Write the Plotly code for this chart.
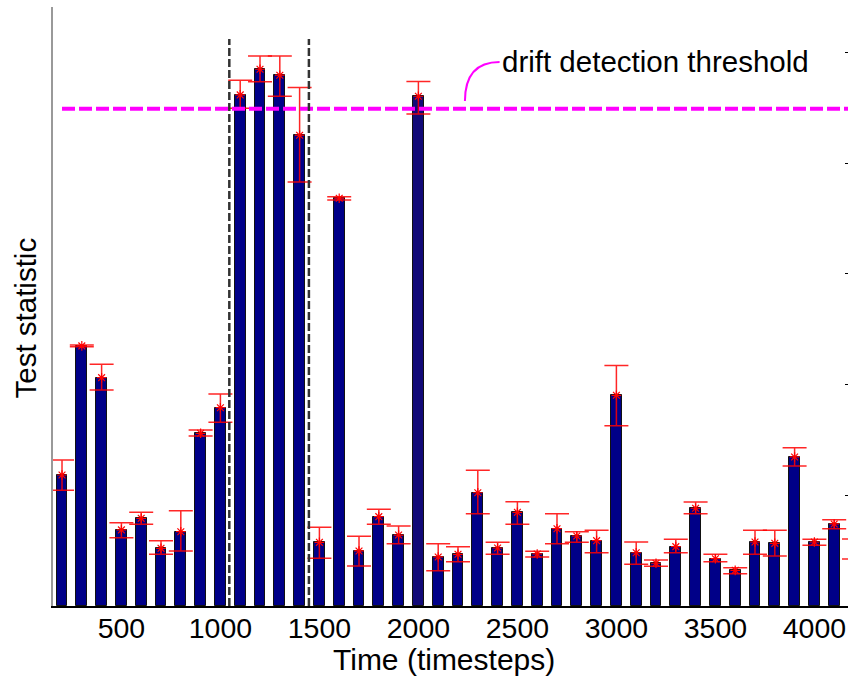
import plotly.graph_objects as go

# ---------------- data ----------------
timesteps = [200, 300, 400, 500, 600, 700, 800, 900, 1000, 1100,
             1200, 1300, 1400, 1500, 1600, 1700, 1800, 1900, 2000, 2100,
             2200, 2300, 2400, 2500, 2600, 2700, 2800, 2900, 3000, 3100,
             3200, 3300, 3400, 3500, 3600, 3700, 3800, 3900, 4000, 4100, 4200]
stat_mean = [0.1183, 0.2349, 0.2062, 0.0687, 0.0792, 0.0521, 0.0671, 0.1560, 0.1791, 0.4616,
             0.4848, 0.4794, 0.4252, 0.0575, 0.3683, 0.0497, 0.0807, 0.0641, 0.4604, 0.0443,
             0.0467, 0.1023, 0.0524, 0.0846, 0.0470, 0.0698, 0.0632, 0.0590, 0.1903, 0.0481,
             0.0386, 0.0536, 0.0883, 0.0427, 0.0322, 0.0578, 0.0566, 0.1346, 0.0578, 0.0741, 0.0510]
stat_upper = [0.1319, 0.2357, 0.2183, 0.0752, 0.0846, 0.0590, 0.0861, 0.1590, 0.1915, 0.4749,
              0.4968, 0.4968, 0.4682, 0.0711, 0.3697, 0.0630, 0.0874, 0.0723, 0.4738, 0.0563,
              0.0536, 0.1226, 0.0575, 0.0942, 0.0494, 0.0834, 0.0671, 0.0684, 0.2171, 0.0578,
              0.0416, 0.0603, 0.0939, 0.0467, 0.0346, 0.0684, 0.0684, 0.1430, 0.0603, 0.0780, 0.0605]
stat_lower = [0.1045, 0.2341, 0.1951, 0.0617, 0.0738, 0.0467, 0.0497, 0.1536, 0.1659, 0.4496,
              0.4736, 0.4604, 0.3830, 0.0431, 0.3668, 0.0361, 0.0738, 0.0563, 0.4444, 0.0319,
              0.0400, 0.0834, 0.0467, 0.0738, 0.0443, 0.0563, 0.0576, 0.0481, 0.1629, 0.0377,
              0.0359, 0.0481, 0.0834, 0.0400, 0.0292, 0.0467, 0.0452, 0.1265, 0.0548, 0.0698, 0.0425]
threshold = 0.449
drift_start = 1045
drift_end = 1447
highlight_step = 2000
x_ticks = [500, 1000, 1500, 2000, 2500, 3000, 3500, 4000]
y_ticks = [0.1, 0.2, 0.3, 0.4, 0.5]

err_plus = [u - m for u, m in zip(stat_upper, stat_mean)]
err_minus = [m - l for m, l in zip(stat_mean, stat_lower)]
bar_colors = ["#120a78" if t == highlight_step else "#000088" for t in timesteps]

FONT = "Liberation Sans, Arial, Helvetica, sans-serif"
X_RANGE = [154.5, 4169.7]
Y_RANGE = [0, 0.541]

fig = go.Figure()

fig.add_trace(go.Bar(
    x=timesteps, y=stat_mean, width=55,
    marker=dict(color=bar_colors, line=dict(color="#111111", width=1)),
    showlegend=False, hoverinfo="skip",
))

fig.add_trace(go.Scatter(
    x=timesteps, y=stat_mean, mode="markers",
    marker=dict(symbol="asterisk-open", size=8, color="red",
                line=dict(color="red", width=1.2)),
    error_y=dict(type="data", symmetric=False, array=err_plus, arrayminus=err_minus,
                 color="rgba(255,0,0,0.85)", thickness=1.5, width=12),
    showlegend=False, hoverinfo="skip",
))

# threshold line
fig.add_trace(go.Scatter(
    x=[timesteps[0], X_RANGE[1]], y=[threshold, threshold], mode="lines",
    line=dict(color="#ff00ff", width=4, dash="13px,4px"),
    showlegend=False, hoverinfo="skip",
))

# drift region boundaries
for xv in (drift_start, drift_end):
    fig.add_shape(type="line", xref="x", yref="y", x0=xv, x1=xv, y0=0, y1=0.512,
                  line=dict(color="#333333", width=2.5, dash="8px,3px"))

# annotation connector (curved)
x0, y0 = 2235, 0.456
x1, y1 = 2410, 0.4914
fig.add_shape(type="path", xref="x", yref="y",
              path=f"M {x0},{y0} Q {x0},{y1} {x1},{y1}",
              line=dict(color="#ff00ff", width=2))
fig.add_annotation(x=x1, y=y1, xref="x", yref="y", text="drift detection threshold",
                   showarrow=False, xanchor="left", yanchor="middle",
                   font=dict(family=FONT, size=29.5, color="black"))

# axis titles
fig.add_annotation(x=(444 - 53) / 795, y=-0.089, xref="paper", yref="paper",
                   text="Time (timesteps)", showarrow=False,
                   xanchor="center", yanchor="middle",
                   font=dict(family=FONT, size=30, color="black"))
fig.add_annotation(x=(25 - 53) / 795, y=0.48, xref="paper", yref="paper",
                   text="Test statistic", textangle=-90, showarrow=False,
                   xanchor="center", yanchor="middle",
                   font=dict(family=FONT, size=29.5, color="black"))

fig.update_layout(
    width=849, height=677,
    margin=dict(l=53, r=1, t=7, b=71),
    plot_bgcolor="white", paper_bgcolor="white",
    bargap=0,
    font=dict(family=FONT, size=28, color="black"),
    xaxis=dict(range=X_RANGE, tickvals=x_ticks, ticktext=[str(v) for v in x_ticks],
               showgrid=False, zeroline=False, showline=True, linecolor="black",
               linewidth=2, ticks="", tickfont=dict(size=28.5, family=FONT),
               ticklabelstandoff=-4),
    yaxis=dict(range=Y_RANGE, showgrid=False, zeroline=False, showline=True,
               linecolor="#999999", linewidth=1.5, ticks="", showticklabels=False),
    yaxis2=dict(range=Y_RANGE, overlaying="y", side="right", tickvals=y_ticks,
                ticks="inside", ticklen=3, tickcolor="black", tickwidth=1,
                showticklabels=False, showgrid=False, zeroline=False, showline=False),
)
# invisible trace to activate the right-hand tick axis
fig.add_trace(go.Scatter(x=[timesteps[0]], y=[0], yaxis="y2", mode="markers",
                         marker=dict(opacity=0), showlegend=False, hoverinfo="skip"))

fig.write_html("out.html")
